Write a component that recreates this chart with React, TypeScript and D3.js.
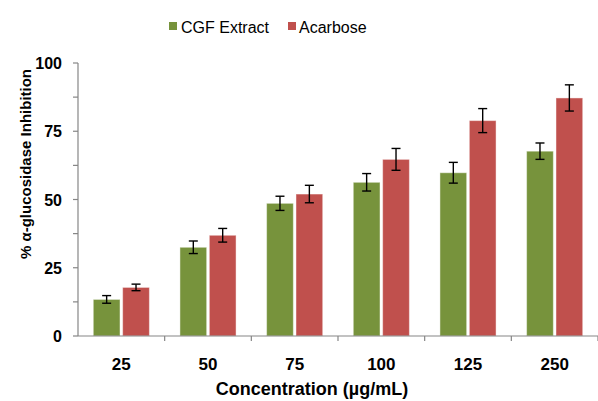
import * as d3 from 'd3';

const concentrations = ['25', '50', '75', '100', '125', '250'];
const seriesNames = ['CGF Extract', 'Acarbose'];
const seriesColors = ['#77933C', '#C0504D'];
const cgfValues = [13.4, 32.5, 48.6, 56.3, 59.8, 67.7];
const cgfErrors = [1.4, 2.3, 2.6, 3.2, 3.8, 3.0];
const acarboseValues = [17.8, 36.9, 52.0, 64.7, 78.9, 87.2];
const acarboseErrors = [1.2, 2.5, 3.2, 4.0, 4.4, 4.8];
const yTickLabels = [0, 25, 50, 75, 100];

export default function App() {
  const width = 598;
  const height = 401;
  const margin = { top: 63, right: 0, bottom: 65, left: 78 };
  const innerWidth = width - margin.left - margin.right;
  const innerHeight = height - margin.top - margin.bottom;

  const x = d3.scaleBand().domain(concentrations).range([0, innerWidth]).paddingInner(0).paddingOuter(0);
  const xSub = d3.scaleBand().domain(seriesNames).range([0, x.bandwidth()]).paddingInner(0.09).paddingOuter(0.52);
  const y = d3.scaleLinear().domain([0, 100]).range([innerHeight, 0]);

  const series = [
    { name: seriesNames[0], values: cgfValues, errors: cgfErrors, color: seriesColors[0] },
    { name: seriesNames[1], values: acarboseValues, errors: acarboseErrors, color: seriesColors[1] },
  ];

  const minorTicks = d3.range(0, 100.01, 12.5);
  const bandEdges = concentrations.map((c) => (x(c) ?? 0) + x.bandwidth());
  const axisColor = '#868686';
  const font = 'Arial, "Liberation Sans", sans-serif';

  return (
    <svg
      width={width}
      height={height}
      viewBox={`0 0 ${width} ${height}`}
      style={{ position: 'absolute', left: 0, top: 0, background: '#fff' }}
      fontFamily={font}
    >
      {/* legend */}
      <g>
        <rect x={169} y={22} width={8} height={8} fill={seriesColors[0]} />
        <text x={181} y={33} fontSize={16} fill="#000">{seriesNames[0]}</text>
        <rect x={288} y={22} width={8} height={8} fill={seriesColors[1]} />
        <text x={299} y={33} fontSize={16} fill="#000">{seriesNames[1]}</text>
      </g>

      <g transform={`translate(${margin.left},${margin.top})`}>
        {series.map((s) =>
          concentrations.map((c, i) => {
            const bx = (x(c) ?? 0) + (xSub(s.name) ?? 0);
            const bw = xSub.bandwidth();
            const v = s.values[i];
            return (
              <rect
                key={`${s.name}-${c}`}
                x={bx}
                y={y(v)}
                width={bw}
                height={innerHeight - y(v)}
                fill={s.color}
                stroke="#ffffff"
                strokeOpacity={0.45}
                strokeWidth={1}
              />
            );
          })
        )}

        {series.map((s) =>
          concentrations.map((c, i) => {
            const cx = (x(c) ?? 0) + (xSub(s.name) ?? 0) + xSub.bandwidth() / 2;
            const hi = y(s.values[i] + s.errors[i]);
            const lo = y(s.values[i] - s.errors[i]);
            return (
              <g key={`err-${s.name}-${c}`} stroke="#000" strokeWidth={1.4}>
                <line x1={cx} x2={cx} y1={hi} y2={lo} />
                <line x1={cx - 4.5} x2={cx + 4.5} y1={hi} y2={hi} />
                <line x1={cx - 4.5} x2={cx + 4.5} y1={lo} y2={lo} />
              </g>
            );
          })
        )}

        {/* y axis */}
        <line x1={0} x2={0} y1={0} y2={innerHeight} stroke={axisColor} strokeWidth={1.2} />
        {minorTicks.map((t) => (
          <line key={`yt-${t}`} x1={-5} x2={0} y1={y(t)} y2={y(t)} stroke={axisColor} strokeWidth={1.2} />
        ))}
        {yTickLabels.map((t) => (
          <text key={`yl-${t}`} x={-16} y={y(t) + 6} textAnchor="end" fontSize={16} fontWeight="bold" fill="#000">
            {t}
          </text>
        ))}

        {/* x axis */}
        <line x1={0} x2={innerWidth} y1={innerHeight} y2={innerHeight} stroke={axisColor} strokeWidth={1.2} />
        {bandEdges.map((e, i) => (
          <line key={`xt-${i}`} x1={e} x2={e} y1={innerHeight} y2={innerHeight + 5} stroke={axisColor} strokeWidth={1.2} />
        ))}
        {concentrations.map((c) => (
          <text
            key={`xl-${c}`}
            x={(x(c) ?? 0) + x.bandwidth() / 2}
            y={innerHeight + 34}
            textAnchor="middle"
            fontSize={17}
            fontWeight="bold"
            fill="#000"
          >
            {c}
          </text>
        ))}
      </g>

      <text x={312} y={395} textAnchor="middle" fontSize={18} fontWeight="bold" fill="#000">
        Concentration (µg/mL)
      </text>
      <text
        transform="translate(31,164) rotate(-90)"
        textAnchor="middle"
        fontSize={15}
        fontWeight="bold"
        fill="#000"
      >
        % α-glucosidase Inhibition
      </text>
    </svg>
  );
}
